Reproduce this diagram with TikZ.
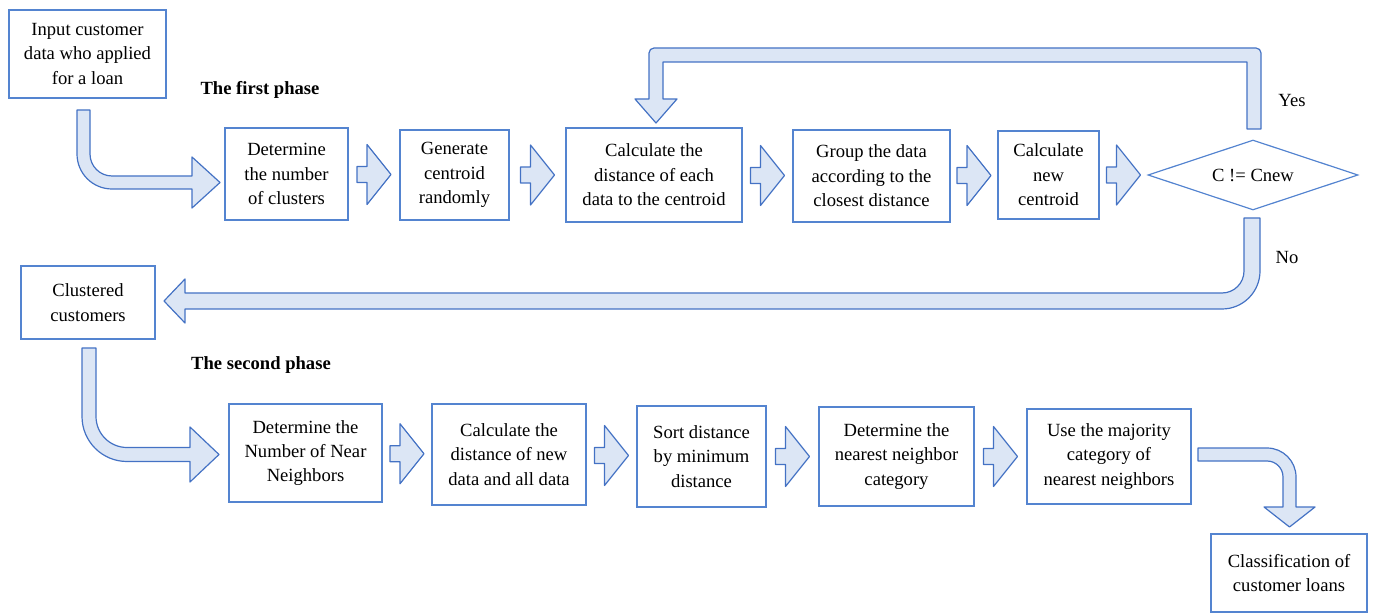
\documentclass[tikz,border=0pt]{standalone}
\usepackage{fontspec}
\setmainfont{Liberation Serif}
\usetikzlibrary{calc,shapes.geometric}
\definecolor{lineblue}{RGB}{68,114,196}
\definecolor{boxblue}{RGB}{84,132,208}
\definecolor{fillblue}{RGB}{220,230,245}

\begin{document}
\begin{tikzpicture}[x=0.5pt, y=-0.5pt,
  font=\fontsize{9.3}{12.2}\selectfont,
  box/.style={draw=boxblue, line width=0.6pt, align=center, inner sep=0pt},
  blk/.style={draw=lineblue, fill=fillblue, line width=0.6pt, line join=round},
  rarr/.pic={\draw[blk] (-17,-8) -- (-7,-8) -- (-7,-30) -- (17,0) -- (-7,30) -- (-7,8) -- (-17,8) -- cycle;}]
\useasboundingbox (0,0) rectangle (1375,614);
% first phase
\node[box, minimum width=78.5pt, minimum height=44pt](inp) at(87.5,54){Input customer\\data who applied\\for a loan};
\node[font=\fontsize{9.3}{12.2}\selectfont\bfseries](ph1) at(260,90){The first phase};
\node[box, minimum width=61.5pt, minimum height=46pt](nclu) at(286.5,174){Determine\\the number\\of clusters};
\node[box, minimum width=54.5pt, minimum height=45pt](gen) at(454.5,175){Generate\\centroid\\randomly};
\node[box, minimum width=88pt, minimum height=47pt](dist) at(654,175){Calculate the\\distance of each\\data to the centroid};
\node[box, minimum width=78.5pt, minimum height=46pt](grp) at(871.5,176){Group the data\\according to the\\closest distance};
\node[box, minimum width=50.5pt, minimum height=44pt](newc) at(1048.5,175){Calculate\\new\\centroid};
\node[box, diamond, aspect=3, minimum width=105pt, minimum height=35pt](dec) at(1253,175){C != Cnew};
\node(yes) at(1292,101){Yes};
\node(no) at(1287,258){No};
\pic at ($(nclu.east)!0.5!(gen.west)$) {rarr};
\pic at ($(gen.east)!0.5!(dist.west)$) {rarr};
\pic at ($(dist.east)!0.5!(grp.west)$) {rarr};
\pic at ($(grp.east)!0.5!(newc.west)$) {rarr};
\pic at ($(newc.east)!0.5!(dec.west)$) {rarr};
\draw[blk] (77,110) -- (77,154) arc[start angle=180, end angle=90, radius=35] -- (192,189) -- (192,208) -- (220,182.5) -- (192,157) -- (192,176) -- (112,176) arc[start angle=90, end angle=180, radius=22] -- (90,110) -- cycle;
% yes loop
\draw[blk] (1247,129) -- (1247,62) -- (663,62) -- (663,99) -- (677,99) -- (656,123) -- (635,99) -- (649,99) -- (649,53) arc[start angle=180, end angle=270, radius=5] -- (1256,48) arc[start angle=270, end angle=360, radius=5] -- (1261,129) -- cycle;
% no
\draw[blk] (1244,218) -- (1260,218) -- (1260,271) arc[start angle=0, end angle=90, radius=38] -- (185,309) -- (185,323) -- (164,301) -- (185,279) -- (185,293) -- (1222,293) arc[start angle=90, end angle=0, radius=22] -- cycle;
% second phase
\node[box, minimum width=67pt, minimum height=36.5pt](clus) at(88,302.5){Clustered\\customers};
\node[font=\fontsize{9.3}{12.2}\selectfont\bfseries](ph2) at(261,365){The second phase};
\node[box, minimum width=76.5pt, minimum height=49pt](nnb) at(305.5,453){Determine the\\Number of Near\\Neighbors};
\node[box, minimum width=77pt, minimum height=50.5pt](dnew) at(509,454.5){Calculate the\\distance of new\\data and all data};
\node[box, minimum width=64.5pt, minimum height=50.5pt](srt) at(701.5,456.5){Sort distance\\by minimum\\distance};
\node[box, minimum width=77.5pt, minimum height=49.5pt](cat) at(896.5,456.5){Determine the\\nearest neighbor\\category};
\node[box, minimum width=82pt, minimum height=47.5pt](maj) at(1109,456.5){Use the majority\\category of\\nearest neighbors};
\node[box, minimum width=78pt, minimum height=39pt](cls) at(1289,573){Classification of\\customer loans};
\pic at ($(nnb.east)!0.5!(dnew.west)$) {rarr};
\pic at ($(dnew.east)!0.5!(srt.west)$) {rarr};
\pic at ($(srt.east)!0.5!(cat.west)$) {rarr};
\pic at ($(cat.east)!0.5!(maj.west)$) {rarr};
\draw[blk] (82,348) -- (82,416.5) arc[start angle=180, end angle=90, radius=45] -- (190,461.5) -- (190,482) -- (219,454.5) -- (190,427) -- (190,447.5) -- (127,447.5) arc[start angle=90, end angle=180, radius=31] -- (96,348) -- cycle;
\draw[blk] (1198,448) -- (1267,448) arc[start angle=270, end angle=360, radius=29] -- (1296,507) -- (1315,507) -- (1289.5,527) -- (1264,507) -- (1283,507) -- (1283,477) arc[start angle=0, end angle=-90, radius=16] -- (1198,461) -- cycle;
\end{tikzpicture}
\end{document}
